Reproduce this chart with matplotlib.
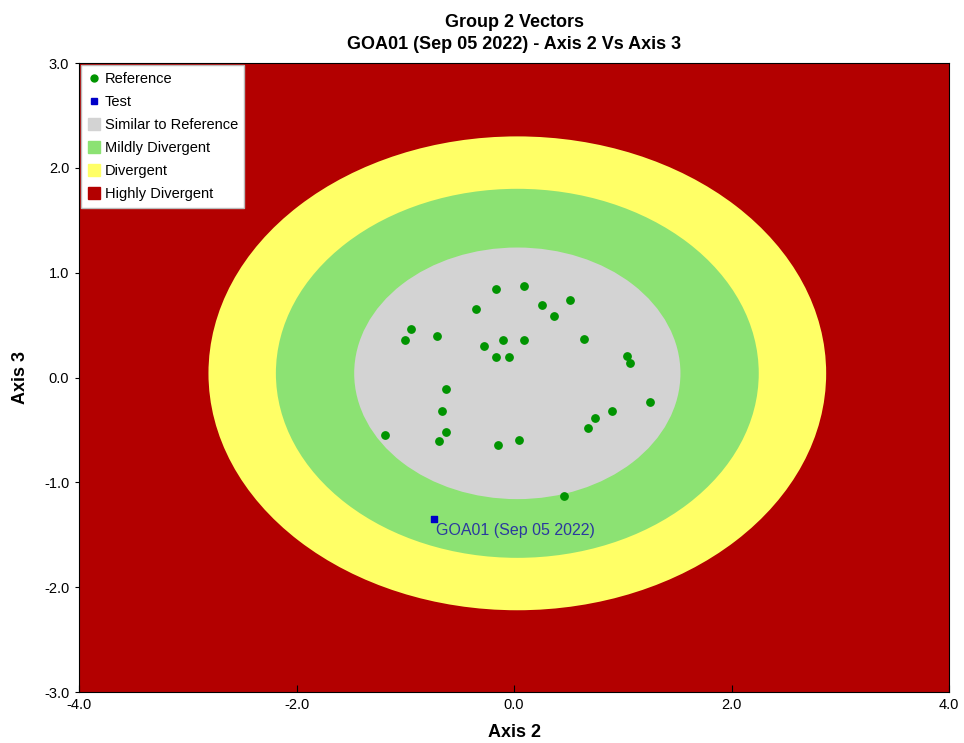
import numpy as np
import matplotlib.pyplot as plt
from matplotlib.patches import Ellipse
from matplotlib.lines import Line2D

plt.rcParams['font.family'] = ['Liberation Sans', 'DejaVu Sans']

# reference points (Axis 2, Axis 3)
ref_x = [-0.17, 0.09, -0.35, 0.26, 0.51, 0.37, -0.95, -1.00, -0.71, -0.10,
         0.09, -0.28, -0.17, -0.05, 0.64, 1.04, 1.07, -0.63, -0.66, 1.25,
         0.90, 0.74, 0.68, -1.19, -0.63, -0.69, -0.15, 0.05, 0.46]
ref_y = [0.84, 0.87, 0.65, 0.69, 0.74, 0.59, 0.46, 0.36, 0.40, 0.36,
         0.36, 0.30, 0.20, 0.20, 0.37, 0.21, 0.14, -0.11, -0.32, -0.23,
         -0.32, -0.39, -0.48, -0.55, -0.52, -0.61, -0.64, -0.60, -1.13]

test_x = [-0.74]
test_y = [-1.35]
test_label = 'GOA01 (Sep 05 2022)'

# ellipse zones: (name, colour, half-width, half-height)
center = (0.03, 0.04)
zones = [('Divergent', '#FFFF66', 2.84, 2.26),
         ('Mildly Divergent', '#8CE273', 2.22, 1.76),
         ('Similar to Reference', '#D3D3D3', 1.50, 1.20)]
red = '#B30000'

fig = plt.figure(figsize=(9.64, 7.43), dpi=100)
ax = fig.add_axes([0.082, 0.0686, 0.9025, 0.8466])
ax.set_facecolor(red)

for name, col, a, b in zones:
    ax.add_patch(Ellipse(center, 2 * a, 2 * b, facecolor=col, edgecolor='none', zorder=1))

ax.scatter(ref_x, ref_y, s=28, color='#009400', zorder=3)
ax.scatter(test_x, test_y, s=22, marker='s', color='#0000C8', zorder=3)
for x, y in zip(test_x, test_y):
    ax.annotate(test_label, (x, y), xytext=(1.5, -8), textcoords='offset points',
                fontsize=11.5, color='#2B3A9E', va='center', zorder=4)

ax.set_xlim(-4, 4)
ax.set_ylim(-3, 3)
ax.set_xticks(np.arange(-4, 4.1, 2))
ax.set_yticks(np.arange(-3, 3.1, 1))
ax.set_xticklabels([f'{v:.1f}' for v in np.arange(-4, 4.1, 2)])
ax.set_yticklabels([f'{v:.1f}' for v in np.arange(-3, 3.1, 1)])
ax.tick_params(axis='x', direction='in', length=5, labelsize=10.5, pad=4)
ax.tick_params(axis='y', direction='out', length=3, labelsize=10.5, pad=4)
for lbl in ax.get_yticklabels():
    lbl.set_verticalalignment('center_baseline')

ax.set_xlabel('Axis 2', fontsize=13, fontweight='bold', labelpad=9)
ax.set_ylabel('Axis 3', fontsize=13, fontweight='bold', labelpad=11)
ax.set_title('Group 2 Vectors\nGOA01 (Sep 05 2022) - Axis 2 Vs Axis 3',
             fontsize=13, fontweight='bold', pad=10, linespacing=1.4)

handles = [
    Line2D([], [], marker='o', ls='none', color='#009400', markersize=5),
    Line2D([], [], marker='s', ls='none', color='#0000C8', markersize=5),
    Line2D([], [], marker='s', ls='none', color='#D3D3D3', markersize=9),
    Line2D([], [], marker='s', ls='none', color='#8CE273', markersize=9),
    Line2D([], [], marker='s', ls='none', color='#FFFF66', markersize=9),
    Line2D([], [], marker='s', ls='none', color=red, markersize=9),
]
labels = ['Reference', 'Test', 'Similar to Reference', 'Mildly Divergent',
          'Divergent', 'Highly Divergent']
leg = ax.legend(handles, labels, loc='upper left', fontsize=10.5, fancybox=False,
                framealpha=1, edgecolor='#BBBBBB', borderaxespad=0.15,
                borderpad=0.45, handletextpad=0.35, labelspacing=0.62,
                handlelength=0.8)

plt.savefig('out.png', dpi=100)
